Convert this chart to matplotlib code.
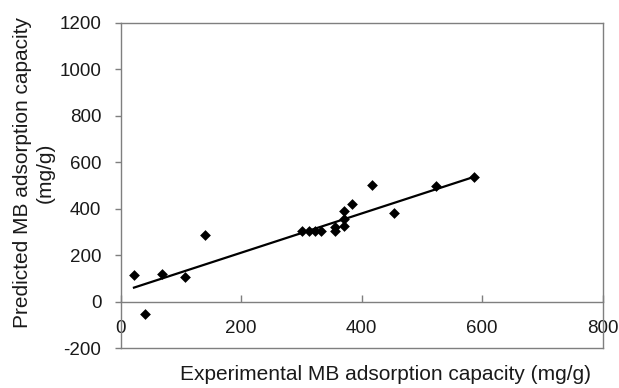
import matplotlib
matplotlib.use('Agg')
import matplotlib.pyplot as plt
import numpy as np

# experimental vs predicted MB adsorption capacity (mg/g)
experimental = [22, 40, 69, 107, 140, 301, 312, 322, 333, 355, 355,
                370, 370, 370, 384, 417, 453, 524, 586]
predicted = [116, -51, 120, 106, 287, 305, 305, 305, 305, 320, 305,
             327, 358, 390, 421, 501, 380, 497, 537]
# linear trend line (slope, intercept)
trend = [0.844, 42.4]

x_ticks = [0, 200, 400, 600, 800]
y_ticks = [-200, 0, 200, 400, 600, 800, 1000, 1200]

plt.rcParams['font.family'] = ['Liberation Sans', 'DejaVu Sans']
plt.rcParams['axes.unicode_minus'] = False
frame_col = '#7f7f7f'
text_col = '#1a1a1a'

fig = plt.figure(figsize=(6.19, 3.88), dpi=100)
ax = fig.add_axes([0.195, 0.1023, 0.7787, 0.839])

ax.scatter(experimental, predicted, marker='D', s=30, color='black', zorder=3,
           linewidths=0)
xs = np.array([min(experimental), max(experimental)])
ax.plot(xs, trend[0] * xs + trend[1], color='black', lw=1.6, zorder=2)

ax.set_xlim(0, 800)
ax.set_ylim(-200, 1200)
ax.set_xticks(x_ticks)
ax.set_yticks(y_ticks)

for sp in ax.spines.values():
    sp.set_color(frame_col)
    sp.set_linewidth(1.0)

ax.tick_params(axis='y', direction='out', length=4, width=1, color=frame_col,
               labelsize=13.5, labelcolor=text_col, pad=10)
ax.tick_params(axis='x', length=0, labelbottom=False)

# zero line carrying the x ticks and their labels
zero_frac = (0 - (-200)) / 1400
sec = ax.secondary_xaxis(zero_frac)
sec.set_xticks(x_ticks)
sec.spines['bottom'].set_color(frame_col)
sec.spines['bottom'].set_linewidth(1.0)
sec.tick_params(axis='x', direction='in', length=5, width=1, color=frame_col,
                labelsize=13.5, labelcolor=text_col, pad=13)

fig.text(385.5 / 619, 1 - 375 / 388, 'Experimental MB adsorption capacity (mg/g)',
         ha='center', va='center', fontsize=15, color=text_col)
fig.text(34 / 619, 1 - 173 / 388, 'Predicted MB adsorption capacity\n(mg/g)',
         ha='center', va='center', rotation=90, fontsize=15, color=text_col,
         linespacing=1.2, multialignment='center')

fig.savefig('out.png', dpi=100)
